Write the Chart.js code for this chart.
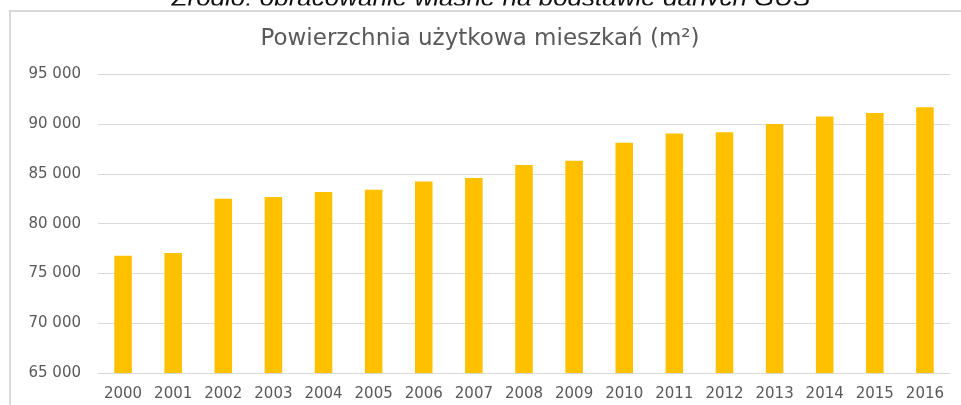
<!DOCTYPE html>
<html>
<head>
<meta charset="utf-8">
<script src="https://cdn.jsdelivr.net/npm/chart.js@4.4.1/dist/chart.umd.min.js"></script>
<style>
  html, body { margin: 0; padding: 0; background: #fff; }
</style>
</head>
<body>
<canvas id="chart" width="961" height="405"></canvas>
<script>
// dane: GUS, powierzchnia użytkowa mieszkań
const years = ['2000', '2001', '2002', '2003', '2004', '2005', '2006', '2007', '2008',
               '2009', '2010', '2011', '2012', '2013', '2014', '2015', '2016'];
const area = [76800, 77070, 82520, 82690, 83190, 83420, 84260, 84600, 85900,
              86330, 88140, 89080, 89210, 90040, 90790, 91150, 91720];
const yTicks = [65000, 70000, 75000, 80000, 85000, 90000, 95000];

const chartTitle = 'Powierzchnia użytkowa mieszkań (m²)';
const caption = 'Źródło: opracowanie własne na podstawie danych GUS';

function fmt(v) {
    return v.toString().replace(/\B(?=(\d{3})+(?!\d))/g, ' ');
}

// tło, obcięty podpis nad wykresem i ramka
const frame = {
    id: 'frame',
    beforeDraw(chart) {
        const ctx = chart.ctx;
        ctx.save();
        ctx.fillStyle = '#fff';
        ctx.fillRect(0, 0, chart.width, chart.height);
        ctx.beginPath();
        ctx.rect(0, 0, chart.width, 5.5);
        ctx.clip();
        ctx.fillStyle = '#111';
        ctx.font = 'italic 26px "Liberation Sans", Arial, sans-serif';
        ctx.textAlign = 'center';
        ctx.textBaseline = 'alphabetic';
        ctx.fillText(caption, 491, 5.5);
        ctx.restore();

        ctx.save();
        ctx.strokeStyle = '#d9d9d9';
        ctx.lineWidth = 2;
        ctx.strokeRect(10, 11, chart.width + 20, chart.height + 20);
        ctx.restore();
    }
};

const tickFont = { family: '"DejaVu Sans", sans-serif', size: 15 };

new Chart(document.getElementById('chart'), {
    type: 'bar',
    data: {
        labels: years,
        datasets: [{
            label: chartTitle,
            data: area,
            backgroundColor: '#FFC000',
            borderWidth: 0,
            barPercentage: 0.35,
            categoryPercentage: 1
        }]
    },
    options: {
        responsive: false,
        animation: false,
        devicePixelRatio: 1,
        layout: {
            padding: { left: 10, right: 11, top: 11, bottom: 0 }
        },
        plugins: {
            legend: { display: false },
            tooltip: { enabled: false },
            title: {
                display: true,
                text: chartTitle,
                color: '#595959',
                font: { family: '"DejaVu Sans", sans-serif', size: 23, weight: 'normal' },
                padding: { top: 14, bottom: 22 }
            }
        },
        scales: {
            x: {
                grid: { display: false, drawTicks: false },
                border: { display: false },
                ticks: {
                    color: '#595959',
                    font: tickFont,
                    padding: 12,
                    maxRotation: 0,
                    autoSkip: false
                },
                afterFit(scale) {
                    scale.height = 32;
                }
            },
            y: {
                min: yTicks[0],
                max: yTicks[yTicks.length - 1],
                grid: { color: '#d9d9d9', lineWidth: 1, drawTicks: false },
                border: { display: false },
                ticks: {
                    stepSize: yTicks[1] - yTicks[0],
                    color: '#595959',
                    font: tickFont,
                    padding: 17,
                    callback: (v) => fmt(v)
                },
                afterFit(scale) {
                    scale.width = 88;
                }
            }
        }
    },
    plugins: [frame]
});
</script>
</body>
</html>
